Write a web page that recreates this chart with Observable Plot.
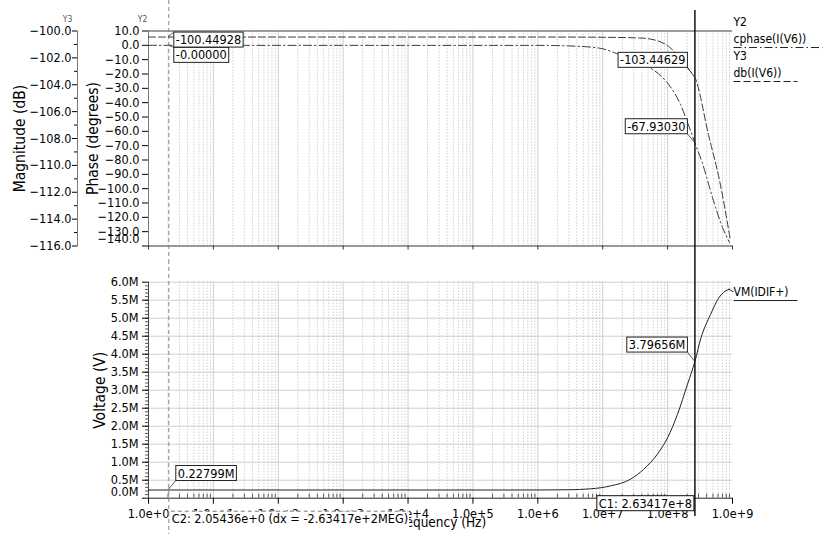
<!DOCTYPE html>
<html>
<head>
<meta charset="utf-8">
<script src="https://cdn.jsdelivr.net/npm/d3@7"></script>
<script src="https://cdn.jsdelivr.net/npm/@observablehq/plot@0.6"></script>
<style>
  body { margin: 0; background: #fff; }
  #chart { position: relative; width: 835px; height: 534px; overflow: hidden; background: #fff; }
  #chart svg { position: absolute; left: 0; }
</style>
</head>
<body>
<div id="chart"></div>
<script>
// ---------- data ----------
const cursorC1 = 2.63417e8;
const cursorC2 = 2.05436;

// db(I(V6)) – magnitude in dB (Y3)
const magFreq = [1, 1e6, 6.3e6, 3.7e7, 6.8e7, 1.07e8, 1.53e8, 2.18e8, 2.63417e8, 4.3e8, 6.3e8, 9.3e8];
const magDb   = [-100.44928, -100.44928, -100.46, -100.52, -100.71, -101.2, -101.95, -102.94, -103.44629, -107.8, -111.1, -115.6];

// cphase(I(V6)) – phase in degrees (Y2)
const phaseFreq = [1, 1e6, 3e6, 9e6, 1.64e7, 3.1e7, 5.28e7, 8.09e7, 1.15e8, 1.53e8, 2.03e8, 2.63417e8, 3.45e8, 4.92e8, 7.02e8, 9.0e8];
const phaseDeg  = [0, -0.05, -0.4, -2, -5.7, -10.6, -15.5, -21.8, -30.1, -39.9, -53.9, -67.9303, -82.5, -106.2, -127.1, -137.5];

// VM(IDIF+) – voltage in M
const vmFreq = [1, 1e6, 3e6, 6.46e6, 1.31e7, 2.69e7, 4.26e7, 6.94e7, 1.0e8, 1.42e8, 2.03e8, 2.63417e8, 3.25e8, 4.58e8, 6.08e8, 7.7e8, 8.9e8];
const vmMeg  = [0.22799, 0.228, 0.235, 0.26, 0.34, 0.53, 0.80, 1.22, 1.68, 2.33, 3.17, 3.79656, 4.44, 5.1, 5.55, 5.75, 5.8];

// ticks
const decadeTicks = [1e0, 1e1, 1e2, 1e3, 1e4, 1e5, 1e6, 1e7, 1e8, 1e9];
const innerDecades = [1e1, 1e2, 1e3, 1e4, 1e5, 1e6, 1e7, 1e8];
const minorTicks = decadeTicks.slice(0, 9).flatMap(d => [2, 3, 4, 5, 6, 7, 8, 9].map(m => m * d));
const phaseTicks = [10, 0, -10, -20, -30, -40, -50, -60, -70, -80, -90, -100, -110, -120, -130];
const phaseBottomTick = [-140];
const magTicks = [-100, -102, -104, -106, -108, -110, -112, -114, -116];
const magMinorTicks = [-101, -103, -105, -107, -109, -111, -113, -115];
const voltTicks = [0.5, 1.0, 1.5, 2.0, 2.5, 3.0, 3.5, 4.0, 4.5, 5.0, 5.5, 6.0];
const voltMinorTicks = d3.range(1, 60).map(i => i / 10);

// annotations
const labelMag1 = "-100.44928", labelPhase1 = "-0.00000";
const labelMag2 = "-103.44629", labelPhase2 = "-67.93030";
const labelVm1 = "0.22799M", labelVm2 = "3.79656M";
const labelC1 = "C1: 2.63417e+8";
const labelC2 = "C2: 2.05436e+0 (dx = -2.63417e+2MEG)";

const toPts = (xs, ys) => xs.map((x, i) => ({x, y: ys[i]}));
const magData = toPts(magFreq, magDb);
const phaseData = toPts(phaseFreq, phaseDeg);
const vmData = toPts(vmFreq, vmMeg);

const FONT = '"DejaVu Sans Condensed", "DejaVu Sans", sans-serif';
const FS = 12.6;
const STYLE = {fontFamily: FONT, fontSize: FS + "px", background: "transparent", overflow: "visible", color: "#000"};
const fmt1 = d3.format(".1f");
const dotted = {stroke: "#b8b8b8", strokeDasharray: "1,2"};
const light = {stroke: "#cfcfcf"};

function note(text, x, y, dx, dy, anchor) {
  return Plot.text([{x, y}], {x: "x", y: "y", text: () => text, dx, dy, textAnchor: anchor, fontSize: FS});
}

// ---------- top: phase ----------
const phasePlot = Plot.plot({
  width: 835, height: 260,
  marginLeft: 148, marginRight: 103, marginTop: 30.5, marginBottom: 14.5,
  style: STYLE,
  x: {type: "log", domain: [1, 1e9]},
  y: {domain: [-140, 10]},
  marks: [
    Plot.ruleX(minorTicks, dotted),
    Plot.ruleX(innerDecades, light),
    Plot.ruleY([10], {stroke: "#7d7d7d", strokeWidth: 1.3}),
    Plot.ruleX([1], {stroke: "#7a7a7a"}),
    Plot.ruleY([-140], {stroke: "#333"}),
    Plot.axisX({ticks: decadeTicks, tickSize: 4, fill: "none", tickFormat: () => "", label: null, stroke: "#333"}),
    Plot.axisY({ticks: phaseTicks, tickFormat: fmt1, tickSize: 6, tickPadding: 3, label: null}),
    Plot.axisY({ticks: phaseBottomTick, tickSize: 6, fill: "none", label: null}),
    Plot.axisY({ticks: phaseBottomTick, tickFormat: fmt1, tickSize: 0, tickPadding: 9, dy: -7, label: null}),
    Plot.text(["Phase (degrees)"], {frameAnchor: "left", textAnchor: "middle", dx: -55, rotate: -90, fontSize: 15.5}),
    Plot.text(["Y2"], {frameAnchor: "top-left", textAnchor: "middle", dx: -6, dy: -15, fontSize: 8.5, fill: "#555"}),
    Plot.line(phaseData, {x: "x", y: "y", stroke: "#3a3a3a", strokeWidth: 1, strokeDasharray: "8,3,1.5,3", curve: "monotone-x"}),
    Plot.ruleX([cursorC2], {stroke: "#888", strokeDasharray: "4,3", insetTop: -30.5, insetBottom: -14.5}),
    Plot.ruleX([cursorC1], {stroke: "#111", strokeWidth: 1.5, insetTop: -20.5, insetBottom: -14.5}),
    note(labelPhase1, cursorC2, 0, 7, 10, "start"),
    note(labelPhase2, cursorC1, -67.9303, -9.5, -16, "end"),
    Plot.text(["Y2"], {frameAnchor: "top-right", dx: 1, dy: -13.5, textAnchor: "start", fontSize: 12}),
    Plot.text(["cphase(I(V6))"], {frameAnchor: "top-right", dx: 1, dy: 3.5, textAnchor: "start", fontSize: 12}),
    Plot.text(["Y3"], {frameAnchor: "top-right", dx: 1, dy: 20.5, textAnchor: "start", fontSize: 12}),
    Plot.text(["db(I(V6))"], {frameAnchor: "top-right", dx: 1, dy: 37.5, textAnchor: "start", fontSize: 12})
  ]
});

// ---------- top overlay: magnitude ----------
const magPlot = Plot.plot({
  width: 835, height: 260,
  marginLeft: 77, marginRight: 103, marginTop: 30.5, marginBottom: 14.5,
  style: STYLE,
  x: {type: "log", domain: [1, 1e9], range: [148, 732], axis: null},
  y: {domain: [-116, -100]},
  marks: [
    Plot.frame({anchor: "left", stroke: "#7a7a7a"}),
    Plot.axisY({ticks: magMinorTicks, tickSize: 3, fill: "none", label: null}),
    Plot.axisY({ticks: magTicks, tickFormat: fmt1, tickSize: 5, tickPadding: 1, label: null}),
    Plot.text(["Magnitude (dB)"], {frameAnchor: "left", textAnchor: "middle", dx: -57, rotate: -90, fontSize: 15.5}),
    Plot.text(["Y3"], {frameAnchor: "top-left", textAnchor: "middle", dx: -10, dy: -15, fontSize: 8.5, fill: "#555"}),
    Plot.line(magData, {x: "x", y: "y", stroke: "#3a3a3a", strokeWidth: 1, strokeDasharray: "7,3", curve: "monotone-x"}),
    note(labelMag1, cursorC2, -100.44928, 7, 3, "start"),
    note(labelMag2, cursorC1, -103.44629, -9.5, -17, "end")
  ]
});

// ---------- bottom: voltage ----------
const vmPlot = Plot.plot({
  width: 835, height: 274,
  marginLeft: 148, marginRight: 103, marginTop: 21.7, marginBottom: 36.3,
  style: STYLE,
  x: {type: "log", domain: [1, 1e9]},
  y: {domain: [0, 6]},
  marks: [
    Plot.ruleY(voltTicks, {stroke: "#d0d0d0"}),
    Plot.ruleX(minorTicks, dotted),
    Plot.ruleX(innerDecades, light),
    Plot.ruleX([1], {stroke: "#444"}),
    Plot.ruleY([0], {stroke: "#222"}),
    Plot.axisY({ticks: voltMinorTicks, tickSize: 3, fill: "none", label: null, stroke: "#555"}),
    Plot.axisY({ticks: voltTicks, tickFormat: d => d.toFixed(1) + "M", tickSize: 6, tickPadding: 4, label: null}),
    Plot.axisY({ticks: [0], tickSize: 6, fill: "none", label: null}),
    Plot.axisY({ticks: [0], tickFormat: d => d.toFixed(1) + "M", tickSize: 0, tickPadding: 10, dy: -6, label: null}),
    Plot.axisX({ticks: minorTicks, tickSize: -4, fill: "none", tickFormat: () => "", label: null, stroke: "#555"}),
    Plot.axisX({ticks: decadeTicks, tickSize: 6, tickPadding: 5, tickFormat: d3.format(".1e"), label: null}),
    Plot.text(["Frequency (Hz)"], {frameAnchor: "bottom", dy: 29, fontSize: 13.5}),
    Plot.text(["Voltage (V)"], {frameAnchor: "left", textAnchor: "middle", dx: -48, rotate: -90, fontSize: 15.5}),
    Plot.line(vmData, {x: "x", y: "y", stroke: "#222", strokeWidth: 1, curve: "monotone-x"}),
    Plot.ruleX([cursorC2], {stroke: "#888", strokeDasharray: "4,3", insetTop: -21.7, insetBottom: -36.3}),
    Plot.ruleX([cursorC1], {stroke: "#111", strokeWidth: 1.5, insetTop: -21.7, insetBottom: -18.3}),
    note(labelVm1, cursorC2, 0.22799, 9, -16.5, "start"),
    note(labelVm2, cursorC1, 3.79656, -9.5, -16.5, "end"),
    Plot.text([cursorC1], {x: d => d, frameAnchor: "bottom", text: () => labelC1, textAnchor: "end", dx: -3, dy: 9.5, fontSize: FS}),
    Plot.text([cursorC2], {x: d => d, frameAnchor: "bottom", text: () => labelC2, textAnchor: "start", dx: 3, dy: 25, fontSize: FS}),
    Plot.text(["VM(IDIF+)"], {frameAnchor: "top-right", dx: 1, dy: 5.3, textAnchor: "start", fontSize: 12})
  ]
});

const chart = document.getElementById("chart");
phasePlot.style.top = "0px";
magPlot.style.top = "0px";
vmPlot.style.top = "260px";
chart.append(phasePlot, magPlot, vmPlot);

// ---------- decorations: label boxes, leaders, legend underlines ----------
const NS = "http://www.w3.org/2000/svg";
function decorate(plot, specs) {
  const X = plot.scale("x"), Y = plot.scale("y");
  const svg = d3.select(plot);
  const layer = svg.append("g");
  svg.selectAll("text").each(function () {
    const s = specs.find(d => d.text === this.textContent);
    if (!s) return;
    const bb = this.getBBox();
    const tr = this.getAttribute("transform");
    const m = this.getCTM();
    const toRoot = (x, y) => [m.a * x + m.c * y + m.e, m.b * x + m.d * y + m.f];
    if (s.box) {
      const px = s.padX ?? 2;
      const r = {x: bb.x - px, y: bb.y, w: bb.width + 2 * px, h: s.tall ? 60 : bb.height};
      const rect = document.createElementNS(NS, "rect");
      rect.setAttribute("x", r.x); rect.setAttribute("y", r.y);
      rect.setAttribute("width", r.w); rect.setAttribute("height", r.h);
      if (tr) rect.setAttribute("transform", tr);
      rect.setAttribute("fill", "#fff");
      rect.setAttribute("stroke", s.boxStroke ?? "#222");
      rect.setAttribute("stroke-width", 1);
      this.parentNode.insertBefore(rect, this);
      if (s.dashTop) {
        rect.setAttribute("stroke", "none");
        const [x1, y1] = toRoot(r.x, r.y), [x2] = toRoot(r.x + r.w, r.y);
        layer.append("line").attr("x1", x1).attr("x2", x2).attr("y1", y1).attr("y2", y1)
          .attr("stroke", "#777").attr("stroke-dasharray", "4,3");
      }
      if (s.leader) {
        const corners = [[r.x, r.y], [r.x + r.w, r.y], [r.x, r.y + r.h], [r.x + r.w, r.y + r.h]].map(([x, y]) => toRoot(x, y));
        const p = [X.apply(s.leader[0]), Y.apply(s.leader[1])];
        const c = d3.least(corners, q => Math.hypot(q[0] - p[0], q[1] - p[1]));
        layer.append("line").attr("x1", p[0]).attr("y1", p[1]).attr("x2", c[0]).attr("y2", c[1])
          .attr("stroke", "#333").attr("stroke-width", 0.8);
      }
    }
    if (s.underline) {
      const [x1, y1] = toRoot(bb.x, bb.y + bb.height + 1.5);
      layer.append("line").attr("x1", x1).attr("x2", x1 + s.underline).attr("y1", y1).attr("y2", y1)
        .attr("stroke", "#222").attr("stroke-dasharray", s.dash ?? null);
    }
    if (s.connect) {
      const p = [X.apply(s.connect[0]), Y.apply(s.connect[1])];
      const [qx, qy] = toRoot(bb.x, bb.y + bb.height / 2);
      layer.append("line").attr("x1", p[0]).attr("y1", p[1]).attr("x2", qx).attr("y2", qy).attr("stroke", "#222");
    }
  });
}

decorate(phasePlot, [
  {text: labelPhase1, box: true, leader: [cursorC2, 0]},
  {text: labelPhase2, box: true, leader: [cursorC1, -67.9303]},
  {text: "cphase(I(V6))", underline: 89, dash: "8,3,1.5,3"},
  {text: "db(I(V6))", underline: 64, dash: "7,3"}
]);
decorate(magPlot, [
  {text: labelMag1, box: true, leader: [cursorC2, -100.44928]},
  {text: labelMag2, box: true, leader: [cursorC1, -103.44629]}
]);
decorate(vmPlot, [
  {text: labelVm1, box: true, leader: [cursorC2, 0.22799]},
  {text: labelVm2, box: true, leader: [cursorC1, 3.79656]},
  {text: labelC1, box: true, boxStroke: "#111"},
  {text: labelC2, box: true, tall: true, dashTop: true, padX: 1},
  {text: "VM(IDIF+)", underline: 64, connect: [vmFreq[vmFreq.length - 1], vmMeg[vmMeg.length - 1]]}
]);
</script>
</body>
</html>
